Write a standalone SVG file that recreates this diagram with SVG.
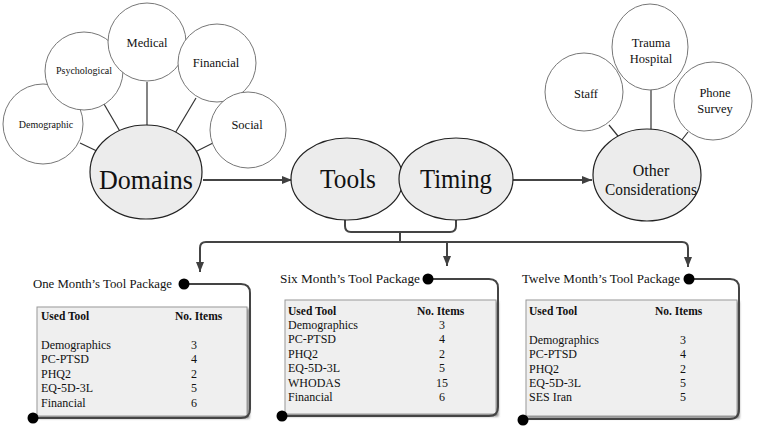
<svg xmlns="http://www.w3.org/2000/svg" width="761" height="439" viewBox="0 0 761 439" font-family="'Liberation Serif', 'DejaVu Serif', serif">
<defs>
<marker id="arr" markerWidth="10" markerHeight="8" refX="10" refY="4" orient="auto" markerUnits="userSpaceOnUse">
<path d="M0,0 L10,4 L0,8 Z" fill="#404040"/>
</marker>
<filter id="sh" x="-5%" y="-5%" width="115%" height="115%">
<feDropShadow dx="2" dy="2" stdDeviation="1" flood-color="#555" flood-opacity="0.7"/>
</filter>
</defs>
<style>
text{font-family:'Liberation Serif','DejaVu Serif',serif;fill:#111}
.c{fill:#fff;stroke:#777;stroke-width:1}
.e{fill:#ececec;stroke:#222;stroke-width:1.2}
.ln{fill:none;stroke:#333;stroke-width:1.2}
.fl{fill:none;stroke:#444;stroke-width:2}
.dot{fill:#333}
.bd{fill:#000}
.box{fill:#efefef;stroke:#999;stroke-width:1}
.mid{text-anchor:middle}
.big{font-size:27px}
.t{font-size:12px}
.h{font-size:11.5px;font-weight:bold}
.ti{font-size:13px}
</style>
<rect width="761" height="439" fill="#fff"/>

<g id="connectors">
<line class="ln" x1="80" y1="143" x2="101" y2="153"/>
<line class="ln" x1="104" y1="104" x2="125" y2="140"/>
<line class="ln" x1="147" y1="82" x2="147" y2="136"/>
<line class="ln" x1="196" y1="98" x2="171" y2="140"/>
<line class="ln" x1="213" y1="143" x2="193" y2="153"/>
<circle class="dot" cx="101" cy="153" r="1.6"/>
<circle class="dot" cx="125" cy="140" r="1.6"/>
<circle class="dot" cx="147" cy="136" r="1.6"/>
<circle class="dot" cx="171" cy="140" r="1.6"/>
<circle class="dot" cx="193" cy="153" r="1.6"/>
<line class="ln" x1="609" y1="125" x2="622" y2="141"/>
<line class="ln" x1="651" y1="89" x2="651" y2="137"/>
<line class="ln" x1="688" y1="132" x2="681" y2="141"/>
<circle class="dot" cx="622" cy="141" r="1.6"/>
<circle class="dot" cx="651" cy="137" r="1.6"/>
<circle class="dot" cx="681" cy="141" r="1.6"/>
<line class="fl" x1="203" y1="180" x2="292" y2="180" marker-end="url(#arr)"/>
<line class="fl" x1="513" y1="180" x2="592" y2="180" marker-end="url(#arr)"/>
<path class="fl" d="M345,220 V226 Q345,232 351,232 H450 Q456,232 456,226 V220"/>
<path class="fl" d="M400,232 V242"/>
<path class="fl" d="M200,262 V248 Q200,242 206,242 H682 Q688,242 688,248 V267" marker-end="url(#arr)"/>
<line class="fl" x1="200" y1="255" x2="200" y2="272" marker-end="url(#arr)"/>
<line class="fl" x1="447" y1="242" x2="447" y2="266" marker-end="url(#arr)"/>
</g>

<g id="n-demographic"><circle class="c" cx="43" cy="124" r="40"/><text class="mid" x="46" y="128" font-size="10">Demographic</text></g>
<g id="n-psychological"><circle class="c" cx="84" cy="71" r="39"/><text class="mid" x="84" y="74" font-size="10">Psychological</text></g>
<g id="n-medical"><circle class="c" cx="147" cy="42" r="39"/><text class="mid" x="147" y="47" font-size="12.5">Medical</text></g>
<g id="n-financial"><circle class="c" cx="217" cy="63" r="39"/><text class="mid" x="216" y="67" font-size="12.5">Financial</text></g>
<g id="n-social"><circle class="c" cx="248" cy="130" r="38"/><text class="mid" x="247" y="129" font-size="12.5">Social</text></g>
<g id="n-domains"><ellipse class="e" cx="146" cy="172" rx="56" ry="47"/><text class="mid big" x="146" y="189" textLength="94" lengthAdjust="spacingAndGlyphs">Domains</text></g>
<g id="n-tools"><ellipse class="e" cx="347" cy="179" rx="56" ry="41"/><text class="mid big" x="348" y="188" textLength="56" lengthAdjust="spacingAndGlyphs">Tools</text></g>
<g id="n-timing"><ellipse class="e" cx="456" cy="179" rx="57" ry="41"/><text class="mid big" x="456" y="188" textLength="72" lengthAdjust="spacingAndGlyphs">Timing</text></g>

<g id="n-staff"><circle class="c" cx="584" cy="92" r="39"/><text class="mid" x="586" y="98" font-size="12.5">Staff</text></g>
<g id="n-trauma"><ellipse class="c" cx="650" cy="47" rx="38" ry="43"/><text class="mid" x="651" y="47" font-size="12.5">Trauma</text><text class="mid" x="651" y="63" font-size="12.5">Hospital</text></g>
<g id="n-phone"><circle class="c" cx="713" cy="101" r="39"/><text class="mid" x="715" y="97" font-size="12.5">Phone</text><text class="mid" x="715" y="113" font-size="12.5">Survey</text></g>
<g id="n-other"><ellipse class="e" cx="647" cy="175" rx="54" ry="46"/><text class="mid" x="651" y="176" font-size="16">Other</text><text class="mid" x="651" y="195" font-size="16" textLength="92" lengthAdjust="spacingAndGlyphs">Considerations</text></g>

<g id="t-one">
<rect class="box" x="37" y="307" width="210" height="109" filter="url(#sh)"/>
<path class="fl" d="M184,284 H241 Q250,284 250,293 V409 Q250,418 241,418 H33"/>
<circle class="bd" cx="184" cy="284" r="5.5"/>
<circle class="bd" cx="33" cy="418" r="5.5"/>
<text class="ti" x="33" y="288" textLength="139" lengthAdjust="spacingAndGlyphs">One Month’s Tool Package</text>
<text class="h" x="41" y="320">Used Tool</text>
<text class="h" x="175" y="320">No. Items</text>
<text class="t" x="41" y="349">Demographics</text><text class="t mid" x="194" y="349">3</text>
<text class="t" x="41" y="363">PC-PTSD</text><text class="t mid" x="194" y="363">4</text>
<text class="t" x="41" y="378">PHQ2</text><text class="t mid" x="194" y="378">2</text>
<text class="t" x="41" y="392">EQ-5D-3L</text><text class="t mid" x="194" y="392">5</text>
<text class="t" x="41" y="407">Financial</text><text class="t mid" x="194" y="407">6</text>
</g>

<g id="t-six">
<rect class="box" x="285" y="300" width="211" height="114" filter="url(#sh)"/>
<path class="fl" d="M428,279 H489 Q498,279 498,288 V407 Q498,416 489,416 H282"/>
<circle class="bd" cx="428" cy="279" r="5.5"/>
<circle class="bd" cx="282" cy="416" r="5.5"/>
<text class="ti" x="280" y="283" textLength="140" lengthAdjust="spacingAndGlyphs">Six  Month’s Tool Package</text>
<text class="h" x="288" y="315">Used Tool</text>
<text class="h" x="417" y="315">No. Items</text>
<text class="t" x="288" y="329">Demographics</text><text class="t mid" x="442" y="329">3</text>
<text class="t" x="288" y="343">PC-PTSD</text><text class="t mid" x="442" y="343">4</text>
<text class="t" x="288" y="358">PHQ2</text><text class="t mid" x="442" y="358">2</text>
<text class="t" x="288" y="372">EQ-5D-3L</text><text class="t mid" x="442" y="372">5</text>
<text class="t" x="288" y="387">WHODAS</text><text class="t mid" x="442" y="387">15</text>
<text class="t" x="288" y="401">Financial</text><text class="t mid" x="442" y="401">6</text>
</g>

<g id="t-twelve">
<rect class="box" x="526" y="300" width="211" height="116" filter="url(#sh)"/>
<path class="fl" d="M689,279 H730 Q739,279 739,288 V409 Q739,419 730,419 H523"/>
<circle class="bd" cx="689" cy="279" r="5.5"/>
<circle class="bd" cx="523" cy="420" r="5.5"/>
<text class="ti" x="522" y="283" textLength="158" lengthAdjust="spacingAndGlyphs">Twelve  Month’s Tool Package</text>
<text class="h" x="529" y="315">Used Tool</text>
<text class="h" x="655" y="315">No. Items</text>
<text class="t" x="529" y="344">Demographics</text><text class="t mid" x="683" y="344">3</text>
<text class="t" x="529" y="358">PC-PTSD</text><text class="t mid" x="683" y="358">4</text>
<text class="t" x="529" y="373">PHQ2</text><text class="t mid" x="683" y="373">2</text>
<text class="t" x="529" y="387">EQ-5D-3L</text><text class="t mid" x="683" y="387">5</text>
<text class="t" x="529" y="401">SES Iran</text><text class="t mid" x="683" y="401">5</text>
</g>
</svg>
